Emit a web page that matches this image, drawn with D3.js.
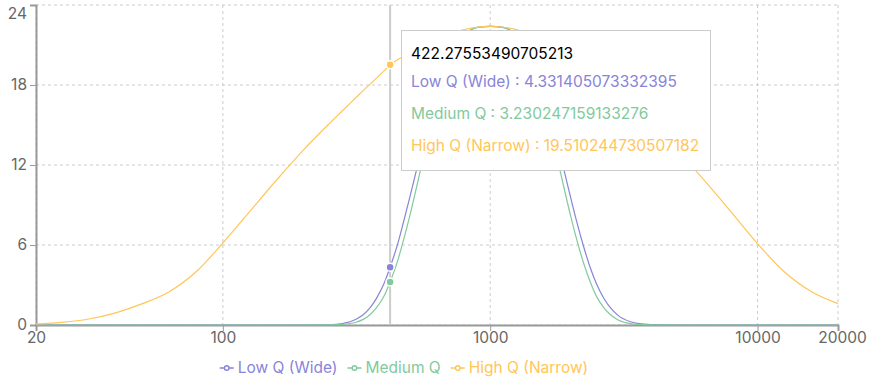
<!DOCTYPE html>
<html>
<head>
<meta charset="utf-8">
<script src="https://cdn.jsdelivr.net/npm/d3@7"></script>
<style>
  body { margin: 0; background: #fff; }
  svg text { font-family: Inter, "Noto Sans", "Liberation Sans", sans-serif; }
</style>
</head>
<body>
<div id="main"></div>
<script>
/// chart data ///
var freqs = [20, 25, 31.5, 40, 50, 63, 80, 100, 125, 160, 200, 250, 280, 315, 335, 355, 375, 400,
    422.27553490705213, 450, 475, 500, 560, 630, 710, 800, 900, 1000, 1120, 1250, 1400, 1600, 1800,
    2000, 2120, 2240, 2370, 2500, 2660, 2820, 3000, 3350, 3550, 4000, 5000, 6300, 8000, 10000,
    12500, 16000, 20000];

var lowQ = [0, 0, 0, 0, 0, 0, 0, 0, 0, 0, 0, 0.02, 0.11, 0.43, 0.77, 1.28, 1.98, 3.07,
    4.331405073332395, 6.03, 7.8, 9.55, 13.55, 17.38, 20.2, 21.76, 22.33, 22.4, 22.32, 21.76, 20.3, 17.15, 13.3,
    9.55, 7.55, 5.83, 4.27, 3.07, 2.01, 1.28, 0.74, 0.24, 0.12, 0.025, 0, 0, 0, 0,
    0, 0, 0];

var mediumQ = [0, 0, 0, 0, 0, 0, 0, 0, 0, 0, 0, 0.008, 0.045, 0.21, 0.42, 0.77, 1.28, 2.13,
    3.230247159133276, 4.77, 6.44, 8.17, 12.38, 16.6, 19.82, 21.66, 22.32, 22.4, 22.3, 21.66, 19.96, 16.42, 12.1,
    8.17, 6.22, 4.59, 3.2, 2.13, 1.31, 0.77, 0.4, 0.106, 0.047, 0.008, 0, 0, 0, 0,
    0, 0, 0];

var highQ = [0.08, 0.2, 0.45, 0.93, 1.6, 2.5, 4.05, 6.15, 8.43, 10.95, 13.12, 15.1, 16.07, 17.06, 17.58, 18.05, 18.5, 19.04,
    19.510244730507182, 19.89, 20.17, 20.44, 20.98, 21.44, 21.86, 22.16, 22.34, 22.4, 22.33, 22.16, 21.88, 21.4, 20.95,
    20.44, 20.14, 19.85, 19.5, 19.04, 18.52, 18.05, 17.55, 16.6, 16.13, 15.1, 13.12, 10.88, 8.43, 6.1,
    4.05, 2.47, 1.6];

var seriesNames = ['Low Q (Wide)', 'Medium Q', 'High Q (Narrow)'];
var seriesValues = [lowQ, mediumQ, highQ];
var seriesColors = ['#8884d8', '#82ca9d', '#ffc658'];

var xTicks = [20, 100, 1000, 10000, 20000];
var yTicks = [0, 6, 12, 18, 24];

var activeIndex = 18;   // hovered point shown in the tooltip

/// layout ///
const w = 870;
const h = 392;
const margin = { top: 5, right: 32, bottom: 67, left: 36 };
const innerW = w - margin.left - margin.right;
const innerH = h - margin.top - margin.bottom;
const fontSize = '15.5px';

const svg = d3.select('#main')
    .append('svg')
    .attr('width', w)
    .attr('height', h);

const x = d3.scaleLog()
    .domain([20, 20000])
    .range([margin.left, margin.left + innerW]);

const y = d3.scaleLinear()
    .domain([0, 24])
    .range([margin.top + innerH, margin.top]);

// grid
const grid = svg.append('g')
    .attr('stroke', '#ccc')
    .attr('stroke-dasharray', '3 3')
    .attr('fill', 'none');

grid.selectAll('.hgrid')
    .data(yTicks)
    .enter()
    .append('line')
    .attr('x1', margin.left)
    .attr('x2', margin.left + innerW)
    .attr('y1', d => y(d))
    .attr('y2', d => y(d));

grid.selectAll('.vgrid')
    .data(xTicks)
    .enter()
    .append('line')
    .attr('x1', d => x(d))
    .attr('x2', d => x(d))
    .attr('y1', margin.top)
    .attr('y2', margin.top + innerH);

// axes
const xAxis = svg.append('g')
    .attr('transform', `translate(0,${margin.top + innerH})`)
    .call(d3.axisBottom(x).tickValues(xTicks).tickFormat(d3.format('d')).tickSize(6).tickPadding(1));

const yAxis = svg.append('g')
    .attr('transform', `translate(${margin.left},0)`)
    .call(d3.axisLeft(y).tickValues(yTicks).tickSize(6).tickPadding(3));

[xAxis, yAxis].forEach(function(ax) {
    ax.select('.domain').attr('stroke', '#999').attr('stroke-width', 2);
    ax.selectAll('.tick line').attr('stroke', '#999');
    ax.selectAll('.tick text')
        .attr('fill', '#666')
        .style('font-size', fontSize);
});

// keep the top label inside the picture
yAxis.selectAll('.tick text')
    .filter(d => d === 24)
    .attr('dy', '0.85em');
// last x label pushed a bit right like the original
xAxis.selectAll('.tick text')
    .filter(d => d === 20000)
    .attr('dx', '4');

// tooltip cursor
svg.append('line')
    .attr('x1', x(freqs[activeIndex]))
    .attr('x2', x(freqs[activeIndex]))
    .attr('y1', margin.top)
    .attr('y2', margin.top + innerH)
    .attr('stroke', '#ccc')
    .attr('stroke-width', 2);

// lines
const line = d3.line()
    .x((d, i) => x(freqs[i]))
    .y(d => y(d))
    .curve(d3.curveMonotoneX);

svg.selectAll('.series')
    .data(seriesValues)
    .enter()
    .append('path')
    .attr('class', 'series')
    .attr('d', d => line(d))
    .attr('fill', 'none')
    .attr('stroke', (d, i) => seriesColors[i])
    .attr('stroke-width', 1.2);

// active dots
svg.selectAll('.dot')
    .data(seriesValues)
    .enter()
    .append('circle')
    .attr('cx', x(freqs[activeIndex]))
    .attr('cy', d => y(d[activeIndex]))
    .attr('r', 4)
    .attr('fill', (d, i) => seriesColors[i])
    .attr('stroke', '#fff')
    .attr('stroke-width', 1.5);

/// legend ///
const legend = svg.append('g');
let lx = 0;
seriesNames.forEach(function(name, i) {
    const g = legend.append('g').attr('transform', `translate(${lx},0)`);
    g.append('path')
        .attr('d', 'M0,0h4.7a2.3,2.3 0 1,1 4.6,0h4.7M9.3,0a2.3,2.3 0 1,1 -4.6,0')
        .attr('fill', 'none')
        .attr('stroke', seriesColors[i])
        .attr('stroke-width', 1.5);
    const t = g.append('text')
        .attr('x', 18)
        .attr('y', 0)
        .attr('dy', '0.35em')
        .attr('fill', seriesColors[i])
        .style('font-size', fontSize)
        .text(name);
    lx += 18 + t.node().getComputedTextLength() + 10;
});
lx -= 10;
legend.attr('transform', `translate(${404 - lx / 2},368)`);

/// tooltip ///
const tip = svg.append('g').attr('transform', 'translate(401,30)');
tip.append('rect')
    .attr('x', 0.5)
    .attr('y', 0.5)
    .attr('width', 309)
    .attr('height', 140)
    .attr('fill', '#fff')
    .attr('stroke', '#ccc');

tip.append('text')
    .attr('x', 10)
    .attr('y', 29)
    .attr('fill', '#000')
    .style('font-size', fontSize)
    .text(String(freqs[activeIndex]));

seriesNames.forEach(function(name, i) {
    tip.append('text')
        .attr('x', 10)
        .attr('y', 57 + i * 32)
        .attr('fill', seriesColors[i])
        .style('font-size', fontSize)
        .text(name + ' : ' + seriesValues[i][activeIndex]);
});
</script>
</body>
</html>
